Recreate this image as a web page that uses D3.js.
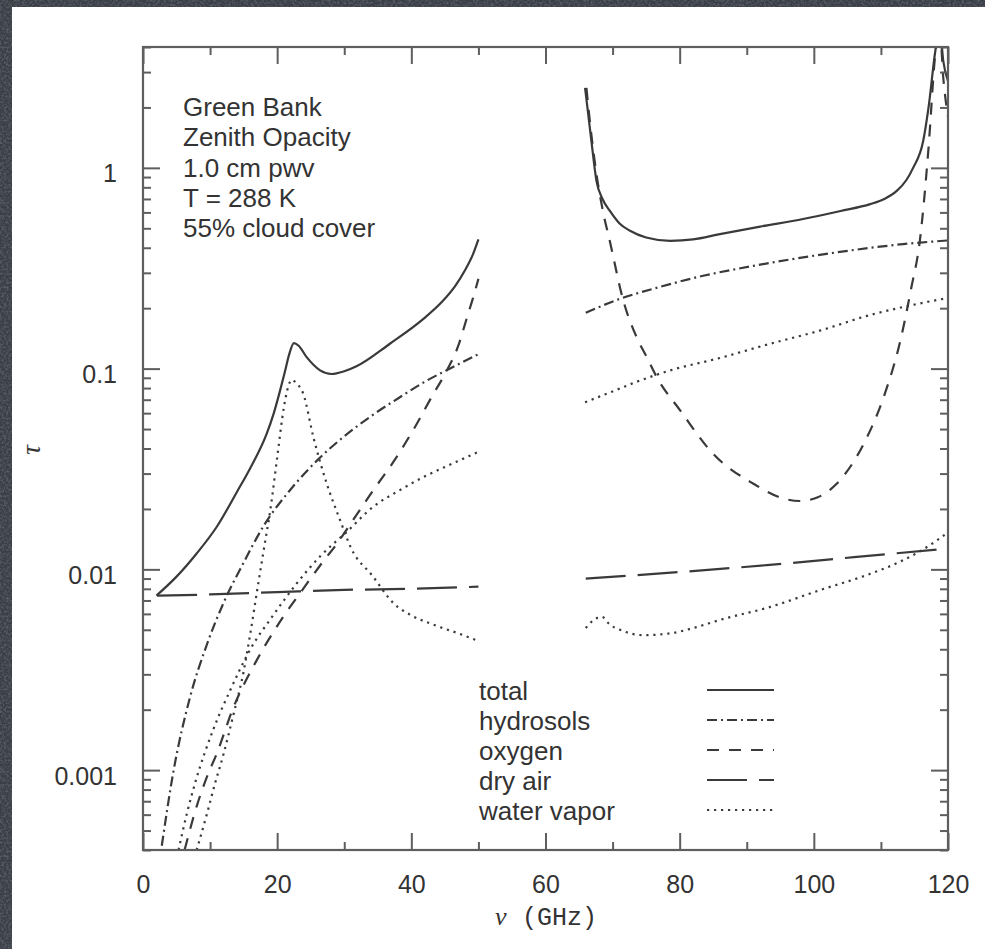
<!DOCTYPE html>
<html>
<head>
<meta charset="utf-8">
<script src="https://cdn.jsdelivr.net/npm/d3@7"></script>
<style>
  html, body { margin: 0; padding: 0; background: #3b3f48; }
  svg { display: block; }
</style>
</head>
<body>
<script>
// ---- axis ticks ----
const freqMajor = [0, 20, 40, 60, 80, 100, 120];
const freqMinor = [10, 30, 50, 70, 90, 110];
const tauMajor = [0.001, 0.01, 0.1, 1];
const tauLabels = ["0.001", "0.01", "0.1", "1"];

// ---- annotation and legend text ----
const notes = ["Green Bank", "Zenith Opacity", "1.0 cm pwv", "T = 288 K", "55% cloud cover"];
const legendNames = ["total", "hydrosols", "oxygen", "dry air", "water vapor"];

// ---- opacity components: [frequency (GHz), tau]; 50-66 GHz is left blank ----
const totalLow = [[2,0.0074],[5,0.0092],[8,0.012],[11,0.0163],[14,0.0243],[16,0.032],[18.4,0.047],[19.5,0.06],[20.4,0.077],[21.2,0.098],[21.8,0.118],[22.5,0.134],[23.2,0.13],[24.4,0.114],[26.4,0.098],[28.1,0.094],[30,0.097],[31.9,0.103],[36.8,0.133],[41.8,0.177],[44.5,0.214],[46.5,0.257],[48,0.309],[49.2,0.372],[50,0.44]];
const totalHigh = [[65.9,2.5],[66.8,1.4],[67.6,0.86],[68.5,0.7],[69.6,0.61],[71,0.53],[72.6,0.486],[75,0.45],[78.6,0.433],[82,0.44],[86,0.468],[92,0.51],[98.4,0.556],[104,0.61],[108.4,0.66],[110.5,0.7],[112.4,0.77],[113.8,0.87],[114.8,1.0],[116.3,1.36],[117.1,2.0],[118.1,3.8],[118.75,5],[119.3,3.4],[120,2.7]];

const hydroLow = [[2.8,0.00042],[4.5,0.00097],[7,0.0023],[9.5,0.0042],[12,0.0068],[15,0.0108],[18,0.0165],[22,0.025],[26,0.035],[30,0.046],[34,0.058],[38,0.071],[42,0.086],[46,0.101],[50,0.118]];
const hydroHigh = [[66,0.19],[71,0.222],[77,0.255],[83.5,0.29],[91,0.325],[98.4,0.358],[106,0.39],[113.3,0.417],[120,0.435]];

const oxygenLow = [[6.2,0.0004],[8,0.00066],[9.5,0.00092],[11,0.00121],[13.5,0.00206],[16.9,0.0035],[20.9,0.0058],[23.4,0.0076],[26.9,0.011],[28.9,0.0134],[31.5,0.018],[34.3,0.0247],[37.5,0.035],[40.8,0.053],[43,0.072],[45.3,0.098],[47,0.13],[48.3,0.18],[49.2,0.225],[50,0.28]];
const oxygenHigh = [[66.1,2.5],[66.8,1.5],[67.6,0.93],[68.6,0.6],[69.6,0.43],[71.6,0.218],[73.6,0.143],[75.1,0.114],[76.6,0.0905],[80.1,0.0618],[85,0.0376],[91,0.0267],[95,0.0228],[97.9,0.0219],[100.5,0.0228],[103.4,0.0267],[107.4,0.042],[110.4,0.072],[112.9,0.138],[114.5,0.25],[115.8,0.433],[117.1,1.26],[118.1,3.68],[118.75,5],[119.3,2.8],[120,1.8]];

const dryLow = [[2.1,0.0074],[10,0.0075],[20,0.0077],[30,0.0079],[40,0.008],[50,0.0082]];
const dryHigh = [[66,0.009],[80,0.0097],[93,0.0105],[106,0.0115],[120,0.0127]];

// water vapor: 22 GHz resonance branch and the smoothly rising branch
const vaporLineLow = [[8,0.0004],[9.5,0.0006],[10.7,0.00085],[12,0.0012],[13.5,0.0019],[15,0.0031],[16,0.0048],[17,0.0078],[18,0.0125],[19,0.02],[20,0.036],[21,0.064],[21.5,0.078],[22.2,0.088],[22.8,0.085],[23.9,0.0748],[25.4,0.0455],[27.4,0.0267],[29.4,0.0175],[31,0.0128],[34.3,0.0092],[37.3,0.0068],[40,0.0059],[43.3,0.0053],[47,0.0048],[50,0.0044]];
const vaporLineHigh = [[66,0.0051],[67.2,0.0056],[68.4,0.0058],[69.6,0.0053],[71.1,0.005],[74.6,0.0047],[78.6,0.0048],[82,0.0051],[86,0.0056],[93.5,0.0065],[101,0.0079],[108.4,0.0095],[113.3,0.0111],[118.3,0.0139],[120,0.0153]];
const vaporContLow = [[5.3,0.0004],[6.5,0.0006],[7.8,0.00087],[10.5,0.0016],[13,0.0025],[16,0.004],[19.4,0.0059],[22.9,0.0085],[26.5,0.0117],[30.4,0.0154],[34.3,0.0205],[38,0.0245],[41.8,0.0288],[46,0.0335],[50,0.0385]];
const vaporContHigh = [[65.9,0.068],[70,0.077],[74,0.087],[78.6,0.098],[86,0.113],[93.5,0.133],[101,0.155],[108.4,0.185],[114,0.205],[120,0.225]];

// ---- line styles per component ----
const dashes = {
  "total": null,
  "hydrosols": "10,4,2,4",
  "oxygen": "12,10",
  "dry air": "40,12",
  "water vapor": "2.2,4.8"
};

const series = [
  ["total", totalLow], ["total", totalHigh],
  ["hydrosols", hydroLow], ["hydrosols", hydroHigh],
  ["oxygen", oxygenLow], ["oxygen", oxygenHigh],
  ["dry air", dryLow], ["dry air", dryHigh],
  ["water vapor", vaporLineLow], ["water vapor", vaporLineHigh],
  ["water vapor", vaporContLow], ["water vapor", vaporContHigh]
];

const W = 985, H = 949;
const sans = "'Liberation Sans', Arial, Helvetica, sans-serif";
const ink = "#333";
const lineInk = "#3a3a3a";
const frameInk = "#5e5e5e";

const svg = d3.select("body").append("svg").attr("width", W).attr("height", H);
const defs = svg.append("defs");

// speckled dark backdrop
const grain = defs.append("filter").attr("id", "grain")
  .attr("x", 0).attr("y", 0).attr("width", "100%").attr("height", "100%");
grain.append("feTurbulence").attr("type", "fractalNoise")
  .attr("baseFrequency", 0.45).attr("numOctaves", 2).attr("seed", 7).attr("result", "n");
grain.append("feColorMatrix").attr("in", "n").attr("type", "matrix")
  .attr("values", "0 0 0 0 0.75  0 0 0 0 0.78  0 0 0 0 0.85  1.4 0 0 0 -0.55");

svg.append("rect").attr("width", W).attr("height", H).attr("fill", "#3a3e47");
svg.append("rect").attr("width", W).attr("height", H).attr("filter", "url(#grain)").attr("opacity", 0.35);

// white sheet
svg.append("rect").attr("x", 12).attr("y", 7).attr("width", W - 12).attr("height", H - 7).attr("fill", "#fff");

// ---- scales ----
const x = d3.scaleLinear().domain([0, 120]).range([143, 948]);
const y = d3.scaleLog().domain([4e-4, 4]).range([850, 47]);
const [x0, x1] = x.range();
const [y0, y1] = [y.range()[1], y.range()[0]];

defs.append("clipPath").attr("id", "plotClip").append("rect")
  .attr("x", x0).attr("y", y0).attr("width", x1 - x0).attr("height", y1 - y0);

// ---- curves ----
const line = d3.line()
  .x(d => x(d[0]))
  .y(d => y(d[1]))
  .curve(d3.curveMonotoneX);

const curves = svg.append("g").attr("clip-path", "url(#plotClip)");
curves.selectAll("path").data(series).join("path")
  .attr("d", d => line(d[1]))
  .attr("fill", "none")
  .attr("stroke", lineInk)
  .attr("stroke-width", 2.2)
  .attr("stroke-linejoin", "round")
  .attr("stroke-dasharray", d => dashes[d[0]]);

// ---- axes (ticks drawn inward on all four sides) ----
const tauMinor = y.ticks().filter(v => !tauMajor.some(m => Math.abs(m - v) / m < 1e-6));

function styleAxis(g) {
  g.select(".domain").remove();
  g.selectAll(".tick line").attr("stroke", frameInk).attr("stroke-width", 2);
  g.selectAll("text").attr("fill", ink).style("font-family", sans).style("font-size", "25px");
}

svg.append("g").attr("transform", `translate(0,${y1})`)
  .call(d3.axisBottom(x).tickValues(freqMajor).tickSize(-17).tickFormat(d3.format("d")))
  .call(styleAxis)
  .call(g => g.selectAll("text").attr("y", 43).attr("dy", null));
svg.append("g").attr("transform", `translate(0,${y1})`)
  .call(d3.axisBottom(x).tickValues(freqMinor).tickSize(-8).tickFormat(""))
  .call(styleAxis);

svg.append("g").attr("transform", `translate(0,${y0})`)
  .call(d3.axisTop(x).tickValues(freqMajor).tickSize(-17).tickFormat(""))
  .call(styleAxis);
svg.append("g").attr("transform", `translate(0,${y0})`)
  .call(d3.axisTop(x).tickValues(freqMinor).tickSize(-8).tickFormat(""))
  .call(styleAxis);

svg.append("g").attr("transform", `translate(${x0},0)`)
  .call(d3.axisLeft(y).tickValues(tauMajor).tickSize(-17).tickPadding(26)
    .tickFormat((d, i) => tauLabels[i]))
  .call(styleAxis)
  .call(g => g.selectAll("text").attr("dy", "14px"));
svg.append("g").attr("transform", `translate(${x0},0)`)
  .call(d3.axisLeft(y).tickValues(tauMinor).tickSize(-8).tickFormat(""))
  .call(styleAxis);

svg.append("g").attr("transform", `translate(${x1},0)`)
  .call(d3.axisRight(y).tickValues(tauMajor).tickSize(-17).tickFormat(""))
  .call(styleAxis);
svg.append("g").attr("transform", `translate(${x1},0)`)
  .call(d3.axisRight(y).tickValues(tauMinor).tickSize(-8).tickFormat(""))
  .call(styleAxis);

// frame
svg.append("rect").attr("x", x0).attr("y", y0).attr("width", x1 - x0).attr("height", y1 - y0)
  .attr("fill", "none").attr("stroke", frameInk).attr("stroke-width", 2.2);

// ---- axis titles ----
const xTitle = svg.append("text").attr("y", 925).attr("fill", ink);
xTitle.append("tspan").attr("x", 495)
  .style("font-family", "'Liberation Serif', 'DejaVu Serif', serif")
  .style("font-style", "italic").style("font-size", "26px").text("ν");
xTitle.append("tspan").attr("x", 522)
  .style("font-family", "'Liberation Mono', 'DejaVu Sans Mono', monospace")
  .style("font-size", "25px").text("(GHz)");

svg.append("text")
  .attr("transform", "translate(31,450) rotate(-90)")
  .attr("text-anchor", "middle").attr("dominant-baseline", "central")
  .attr("fill", ink)
  .style("font-family", "'Liberation Serif', 'DejaVu Serif', serif")
  .style("font-style", "italic").style("font-size", "27px")
  .text("τ");

// ---- site / conditions note ----
svg.append("g").selectAll("text").data(notes).join("text")
  .attr("x", 183)
  .attr("y", (d, i) => 116 + i * 30.3)
  .attr("fill", ink)
  .style("font-family", sans).style("font-size", "26px")
  .text(d => d);

// ---- legend ----
const legend = svg.append("g");
const rows = legend.selectAll("g").data(legendNames).join("g")
  .attr("transform", (d, i) => `translate(0,${i * 30})`);
rows.append("text")
  .attr("x", 479).attr("y", 700)
  .attr("fill", ink)
  .style("font-family", sans).style("font-size", "26px")
  .text(d => d);
rows.append("line")
  .attr("x1", 707).attr("x2", 774).attr("y1", 690).attr("y2", 690)
  .attr("stroke", lineInk).attr("stroke-width", 2.2)
  .attr("stroke-dasharray", d => dashes[d]);
</script>
</body>
</html>
